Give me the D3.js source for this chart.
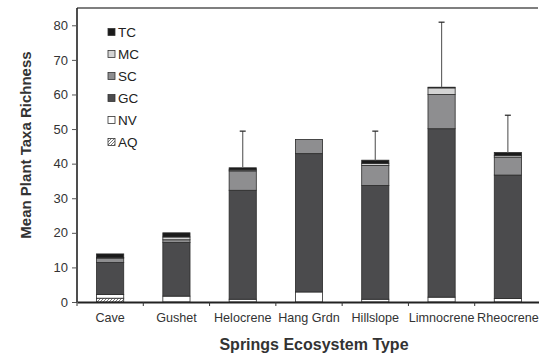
<!DOCTYPE html>
<html>
<head>
<meta charset="utf-8">
<script src="https://cdn.jsdelivr.net/npm/d3@7"></script>
<style>
    body { margin: 0; background: #fff; }
    svg { display: block; font-family: "Liberation Sans", Arial, sans-serif; }
</style>
</head>
<body>
<div class="visualGraph"></div>
<script>
// categories and stacked values (bottom to top: AQ, NV, GC, SC, MC, TC)
const categories = ["Cave", "Gushet", "Helocrene", "Hang Grdn", "Hillslope", "Limnocrene", "Rheocrene"];
const seriesNames = ["AQ", "NV", "GC", "SC", "MC", "TC"];
const aq = [1.1, 0, 0, 0, 0, 0, 0];
const nv = [1.1, 1.7, 0.8, 2.9, 0.8, 1.4, 1.0];
const gc = [9.2, 15.5, 31.5, 40.0, 32.9, 48.7, 35.7];
const sc = [1.3, 0.8, 5.6, 4.1, 5.8, 9.9, 5.2];
const mc = [0.1, 0.8, 0.3, 0, 0.6, 1.9, 0.5];
const tc = [1.1, 1.2, 0.6, 0, 0.9, 0.2, 0.8];
const errorTop = [null, null, 49.4, null, 49.4, 80.9, 54.0];
const yTicks = [0, 10, 20, 30, 40, 50, 60, 70, 80];

const width = 539, height = 354;
const plotLeft = 77, plotRight = 541, plotTop = 8, plotBottom = 302;

const rows = categories.map((c, i) => ({
    cat: c, AQ: aq[i], NV: nv[i], GC: gc[i], SC: sc[i], MC: mc[i], TC: tc[i], err: errorTop[i]
}));

const fills = {AQ: "url(#hatch)", NV: "#ffffff", GC: "#4b4b4d", SC: "#8e8e90", MC: "#d4d4d4", TC: "#1a1a1a"};

const svg = d3.select(".visualGraph")
    .append("svg")
    .attr("width", width)
    .attr("height", height)
    .attr("viewBox", [0, 0, width, height]);

// hatch pattern for AQ
const pat = svg.append("defs").append("pattern")
    .attr("id", "hatch")
    .attr("patternUnits", "userSpaceOnUse")
    .attr("width", 3).attr("height", 3);
pat.append("rect").attr("width", 3).attr("height", 3).attr("fill", "#fff");
pat.append("path").attr("d", "M0,3 L3,0").attr("stroke", "#555").attr("stroke-width", 0.8);

const y = d3.scaleLinear().domain([0, 85]).range([plotBottom, plotTop]);
const x = d3.scaleBand().domain(categories).range([plotLeft, plotRight])
    .paddingInner(0.59).paddingOuter(0.295);
const xCell = d3.scaleBand().domain(categories).range([plotLeft, plotRight]).padding(0);

// top frame line
svg.append("line")
    .attr("x1", plotLeft).attr("x2", 538)
    .attr("y1", plotTop).attr("y2", plotTop)
    .attr("stroke", "#555").attr("stroke-width", 1.5);

// bars
const stack = d3.stack().keys(seriesNames)(rows);
svg.append("g").selectAll("g")
    .data(stack)
    .join("g")
    .attr("fill", d => fills[d.key])
    .selectAll("rect")
    .data(d => d.filter(s => s[1] - s[0] > 0))
    .join("rect")
    .attr("x", d => x(d.data.cat))
    .attr("width", x.bandwidth())
    .attr("y", d => y(d[1]))
    .attr("height", d => y(d[0]) - y(d[1]))
    .attr("stroke", "#2a2a2a")
    .attr("stroke-width", 0.8);

// error bars
const errs = rows.filter(d => d.err !== null);
const eg = svg.append("g");
eg.selectAll("line.v")
    .data(errs)
    .join("line")
    .attr("class", "v")
    .attr("x1", d => x(d.cat) + x.bandwidth() / 2)
    .attr("x2", d => x(d.cat) + x.bandwidth() / 2)
    .attr("y1", d => y(d.AQ + d.NV + d.GC + d.SC + d.MC + d.TC))
    .attr("y2", d => y(d.err))
    .attr("stroke", "#666").attr("stroke-width", 1.2);
eg.selectAll("line.cap")
    .data(errs)
    .join("line")
    .attr("class", "cap")
    .attr("x1", d => x(d.cat) + x.bandwidth() / 2 - 3)
    .attr("x2", d => x(d.cat) + x.bandwidth() / 2 + 3)
    .attr("y1", d => y(d.err))
    .attr("y2", d => y(d.err))
    .attr("stroke", "#222").attr("stroke-width", 1.2);

// y axis
const yAxis = svg.append("g")
    .attr("transform", `translate(${plotLeft},0)`)
    .call(d3.axisLeft(y).tickValues(yTicks).tickSize(5).tickPadding(4));
yAxis.select(".domain").attr("d", `M0,${plotTop}V${plotBottom}`).attr("stroke", "#222").attr("stroke-width", 1.6);
yAxis.selectAll(".tick line").attr("stroke", "#555");
yAxis.selectAll(".tick text").attr("font-size", 13).attr("fill", "#333")
    .attr("font-family", "Liberation Sans, Arial, sans-serif");

// x axis with ticks at category boundaries
const xAxis = svg.append("g")
    .attr("transform", `translate(0,${plotBottom})`)
    .call(d3.axisBottom(xCell).tickSize(0).tickPadding(11));
xAxis.select(".domain").attr("stroke", "#222").attr("stroke-width", 1.8);
xAxis.selectAll(".tick text").attr("font-size", 12.6).attr("fill", "#333")
    .attr("font-family", "Liberation Sans, Arial, sans-serif");
xAxis.selectAll("line.bound")
    .data(categories)
    .join("line")
    .attr("class", "bound")
    .attr("x1", d => xCell(d)).attr("x2", d => xCell(d))
    .attr("y1", 0).attr("y2", 4)
    .attr("stroke", "#333");

// axis titles
svg.append("text")
    .attr("transform", "translate(31,145) rotate(-90)")
    .attr("text-anchor", "middle")
    .attr("font-size", 15).attr("font-weight", "bold").attr("fill", "#333")
    .text("Mean Plant Taxa Richness");
svg.append("text")
    .attr("x", 314).attr("y", 350)
    .attr("text-anchor", "middle")
    .attr("font-size", 16).attr("font-weight", "bold").attr("fill", "#333")
    .text("Springs Ecosystem Type");

// legend, top entry first
const legend = svg.append("g").attr("transform", "translate(108,0)");
const legendKeys = seriesNames.slice().reverse();
const lg = legend.selectAll("g")
    .data(legendKeys)
    .join("g")
    .attr("transform", (d, i) => `translate(0,${32 + i * 22})`);
lg.append("rect")
    .attr("x", 0).attr("y", -3.5)
    .attr("width", 7).attr("height", 7)
    .attr("fill", d => fills[d])
    .attr("stroke", "#333").attr("stroke-width", 0.8);
lg.append("text")
    .attr("x", 10).attr("y", 5)
    .attr("font-size", 13.5).attr("fill", "#222")
    .text(d => d);
</script>
</body>
</html>
